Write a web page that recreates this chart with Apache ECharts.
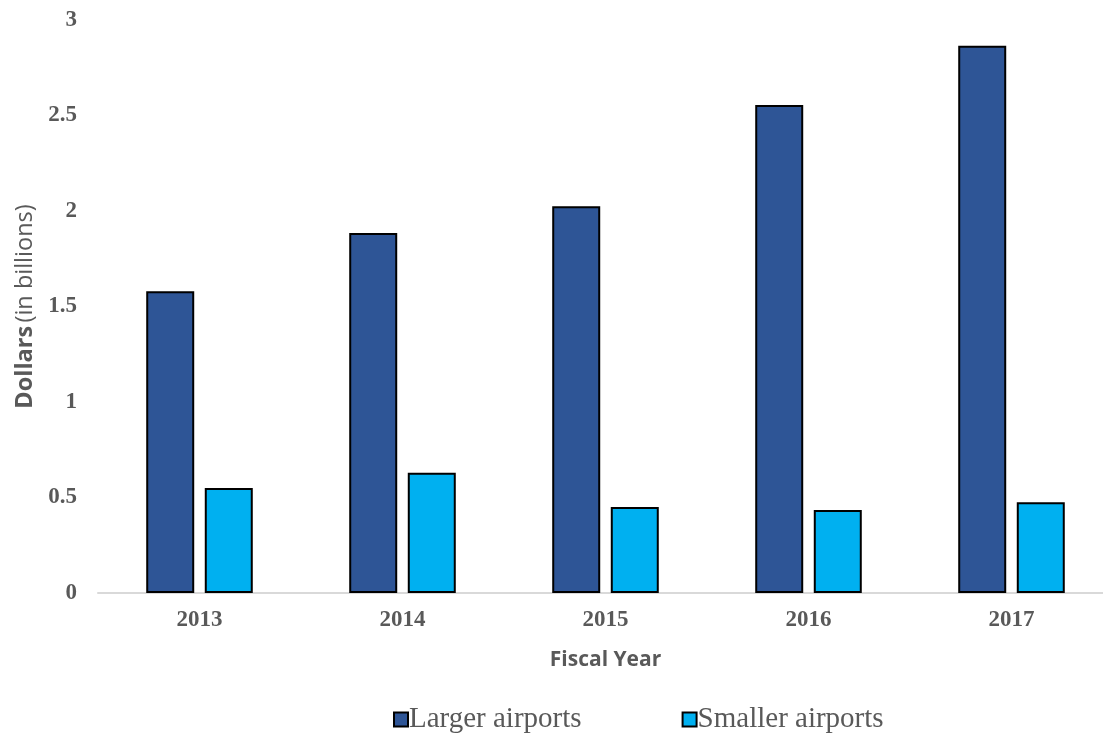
<!DOCTYPE html>
<html>
<head>
<meta charset="utf-8">
<script src="https://cdn.jsdelivr.net/npm/echarts@6/dist/echarts.min.js"></script>
<style>
  html, body { margin: 0; padding: 0; background: #fff; }
  #chart { width: 1103px; height: 733px; }
</style>
</head>
<body>
<div id="chart"></div>
<script>
const years = ['2013', '2014', '2015', '2016', '2017'];
const largerAirports = [1.58, 1.885, 2.025, 2.555, 2.865];
const smallerAirports = [0.55, 0.63, 0.45, 0.435, 0.475];

let myChart = echarts.init(document.getElementById('chart'));
let option = {
  animation: false,
  grid: { left: 98, width: 1015, top: 20, bottom: 140, outerBoundsMode: 'none', containLabel: false },
  legend: {
    top: 700,
    left: 388,
    itemGap: 100,
    itemWidth: 14,
    itemHeight: 14,
    icon: 'rect',
    textStyle: { fontFamily: 'Liberation Serif', fontSize: 29, color: '#595959', padding: [0, 0, 0, -4] },
    data: ['Larger airports', 'Smaller airports']
  },
  xAxis: {
    type: 'category',
    data: years,
    name: 'Fiscal Year',
    nameLocation: 'middle',
    nameGap: 57,
    nameTextStyle: { fontFamily: 'Open Sans', fontWeight: 'bold', fontSize: 21, color: '#595959' },
    axisLine: { lineStyle: { color: '#d9d9d9', width: 2 } },
    axisTick: { show: false },
    axisLabel: { fontFamily: 'Liberation Serif', fontWeight: 'bold', fontSize: 23, color: '#595959', margin: 16 }
  },
  yAxis: {
    type: 'value',
    min: 0,
    max: 3,
    interval: 0.5,
    name: '{b|Dollars} {n|(in billions)}',
    nameLocation: 'middle',
    nameGap: 59,
    nameTextStyle: {
      rich: {
        b: { fontFamily: 'Open Sans', fontWeight: 'bold', fontSize: 23.5, color: '#595959' },
        n: { fontFamily: 'Open Sans', fontSize: 23.5, color: '#595959' }
      }
    },
    axisLine: { show: false },
    axisTick: { show: false },
    splitLine: { show: false },
    axisLabel: { fontFamily: 'Liberation Serif', fontWeight: 'bold', fontSize: 23, color: '#595959', margin: 21 }
  },
  series: [
    {
      name: 'Larger airports',
      type: 'bar',
      data: largerAirports,
      barWidth: 48,
      barGap: '22%',
      itemStyle: { color: '#2e5596', borderColor: '#000', borderWidth: 2 }
    },
    {
      name: 'Smaller airports',
      type: 'bar',
      data: smallerAirports,
      barWidth: 48,
      itemStyle: { color: '#00b0f0', borderColor: '#000', borderWidth: 2 }
    }
  ]
};
myChart.setOption(option);
window.addEventListener('resize', function () {
  myChart.resize();
});
</script>
</body>
</html>
